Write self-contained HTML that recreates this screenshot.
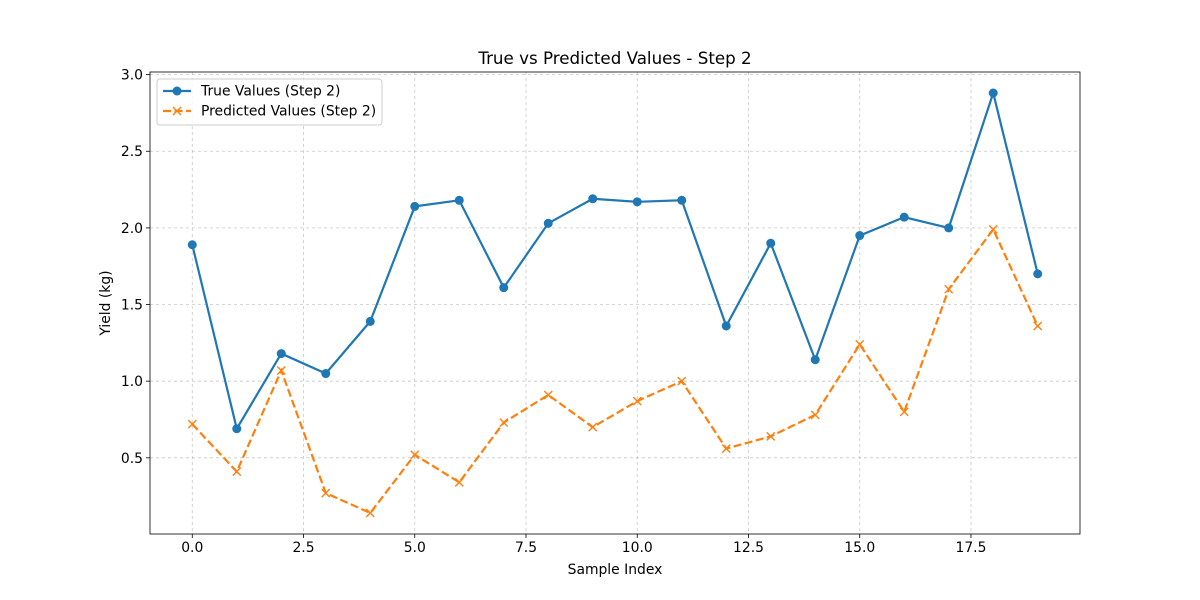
<!DOCTYPE html>
<html><head><meta charset="utf-8"><style>
body{margin:0;background:#fff;}
svg{display:block;font-family:"DejaVu Sans","Liberation Sans",sans-serif;}
</style></head><body>
<svg id="chart" width="1200" height="600" viewBox="0 0 1200 600"></svg>
<script>
const xTicks=[0,2.5,5,7.5,10,12.5,15,17.5];
const xTickLabels=["0.0","2.5","5.0","7.5","10.0","12.5","15.0","17.5"];
const yTicks=[0.5,1.0,1.5,2.0,2.5,3.0];
const yTickLabels=["0.5","1.0","1.5","2.0","2.5","3.0"];
const trueValues=[1.89,0.69,1.18,1.05,1.39,2.14,2.18,1.61,2.03,2.19,2.17,2.18,1.36,1.90,1.14,1.95,2.07,2.00,2.88,1.70];
const predValues=[0.72,0.41,1.07,0.27,0.14,0.52,0.34,0.73,0.91,0.70,0.87,1.00,0.56,0.64,0.78,1.24,0.80,1.60,1.99,1.36];

const L=150,R=1080,T=72,B=534;
const xMin=-0.95,xMax=19.95,yMin=0.003,yMax=3.017;
const sx=v=>L+(v-xMin)/(xMax-xMin)*(R-L);
const sy=v=>B-(v-yMin)/(yMax-yMin)*(B-T);
const svg=document.getElementById('chart');
const NS='http://www.w3.org/2000/svg';
function mk(tag,attrs,parent){const e=document.createElementNS(NS,tag);for(const k in attrs)e.setAttribute(k,attrs[k]);(parent||svg).appendChild(e);return e;}

const grid=mk('g',{});


xTicks.forEach((t,i)=>{
  const x=sx(t);
  mk('line',{x1:x,x2:x,y1:T,y2:B,stroke:'#b0b0b0','stroke-width':0.8,'stroke-dasharray':'3,3',opacity:0.7},grid);
  mk('line',{x1:x,x2:x,y1:B,y2:B+4,stroke:'#000','stroke-width':0.8});
  const tx=mk('text',{x:x,y:B+18,'font-size':13.9,'text-anchor':'middle'});
  
  
  tx.textContent=xTickLabels[i];
});
yTicks.forEach((t,i)=>{
  const y=sy(t);
  mk('line',{x1:L,x2:R,y1:y,y2:y,stroke:'#b0b0b0','stroke-width':0.8,'stroke-dasharray':'3,3',opacity:0.7},grid);
  mk('line',{x1:L-4,x2:L,y1:y,y2:y,stroke:'#000','stroke-width':0.8});
  const tx=mk('text',{x:L-7,y:y+5,'font-size':13.9,'text-anchor':'end'});
  
  
  tx.textContent=yTickLabels[i];
});

function series(vals,color,dash,marker,name){
  const g=mk('g',{});
  
  
  mk('polyline',{points:vals.map((v,i)=>sx(i)+','+sy(v)).join(' '),fill:'none',stroke:color,'stroke-width':2.2,'stroke-dasharray':dash},g);
  vals.forEach((v,i)=>{
    const x=sx(i),y=sy(v);
    if(marker==='o'){const c=mk('circle',{cx:x,cy:y,r:4.5,fill:color},g);}
    else{const p=mk('path',{d:`M${x-4},${y-4}L${x+4},${y+4}M${x-4},${y+4}L${x+4},${y-4}`,stroke:color,'stroke-width':1.4},g);}
  });
}
series(trueValues,'#1f77b4','none','o','true-values-series');
series(predValues,'#ff7f0e','8,3.5','x','predicted-values-series');

mk('rect',{x:L,y:T,width:R-L,height:B-T,fill:'none',stroke:'#000','stroke-width':0.8});
</script>
<svg style="position:absolute;left:0;top:0" width="1200" height="600">
<text x="615" y="64" font-size="16.7" text-anchor="middle" font-family="DejaVu Sans, sans-serif">True vs Predicted Values - Step 2</text>
<text x="615" y="574" font-size="13.9" text-anchor="middle" font-family="DejaVu Sans, sans-serif">Sample Index</text>
<text transform="translate(110,303) rotate(-90)" font-size="13.9" text-anchor="middle" font-family="DejaVu Sans, sans-serif">Yield (kg)</text>
<g font-family="DejaVu Sans, sans-serif">
<rect x="157" y="79" width="225" height="46" rx="3" fill="#fff" fill-opacity="0.8" stroke="#ccc"/>
<line x1="163" x2="191" y1="91" y2="91" stroke="#1f77b4" stroke-width="2.2"/>
<circle cx="177" cy="91" r="4.5" fill="#1f77b4"/>
<text x="201" y="95.5" font-size="13.9">True Values (Step 2)</text>
<line x1="163" x2="191" y1="111" y2="111" stroke="#ff7f0e" stroke-width="2.2" stroke-dasharray="8,3.5"/>
<path d="M173,107L181,115M173,115L181,107" stroke="#ff7f0e" stroke-width="1.4"/>
<text x="201" y="115.5" font-size="13.9">Predicted Values (Step 2)</text>
</g>
</svg>
</body></html>
